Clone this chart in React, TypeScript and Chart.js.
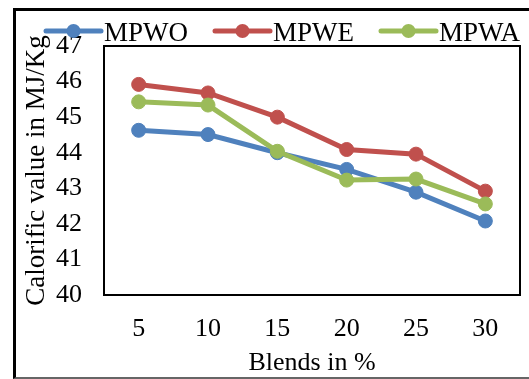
import { useEffect, useRef } from "react";
import { Chart, registerables } from "chart.js";

Chart.register(...registerables);

// Blend percentages on the x axis
const blends = ["5", "10", "15", "20", "25", "30"];

// Calorific value (MJ/Kg) for each blend series
const mpwo = [44.63, 44.51, 44.0, 43.53, 42.89, 42.08];
const mpwe = [45.92, 45.68, 45.0, 44.09, 43.96, 42.92];
const mpwa = [45.43, 45.34, 44.04, 43.23, 43.26, 42.56];

const seriesNames = ["MPWO", "MPWE", "MPWA"];
const seriesColors = ["#4F81BD", "#C0504D", "#9BBB59"];

const yMin = 40;
const yMax = 47;
const yStep = 1;

const FONT = '"Liberation Serif", "Times New Roman", Times, serif';

// Draws the black frame around the plot area and an Excel-style legend
// (line segment with a marker, followed by the series name) across the top.
const frameAndLegend = {
  id: "frameAndLegend",
  beforeDatasetsDraw(chart: any) {
    const { ctx, chartArea } = chart;
    ctx.save();
    ctx.strokeStyle = "#000";
    ctx.lineWidth = 2;
    ctx.strokeRect(
      chartArea.left,
      chartArea.top,
      chartArea.right - chartArea.left,
      chartArea.bottom - chartArea.top
    );
    ctx.restore();
  },
  afterDraw(chart: any) {
    const { ctx } = chart;
    ctx.save();
    ctx.font = `27px ${FONT}`;
    ctx.textBaseline = "alphabetic";
    ctx.textAlign = "left";
    const lineLen = 55;
    const cy = 31;
    let x = 46;
    chart.data.datasets.forEach((ds: any) => {
      ctx.strokeStyle = ds.borderColor;
      ctx.fillStyle = ds.borderColor;
      ctx.lineWidth = 5;
      ctx.lineCap = "round";
      ctx.beginPath();
      ctx.moveTo(x, cy);
      ctx.lineTo(x + lineLen, cy);
      ctx.stroke();
      ctx.beginPath();
      ctx.arc(x + lineLen / 2, cy, 7, 0, Math.PI * 2);
      ctx.fill();
      ctx.fillStyle = "#000";
      const tx = x + lineLen + 3;
      ctx.fillText(ds.label, tx, cy + 10);
      x = tx + ctx.measureText(ds.label).width + 27;
    });
    ctx.restore();
  },
};

export default function App() {
  const canvasRef = useRef<HTMLCanvasElement>(null);

  useEffect(() => {
    const canvas = canvasRef.current;
    if (!canvas) return;
    const values = [mpwo, mpwe, mpwa];
    const chart = new Chart(canvas, {
      type: "line",
      data: {
        labels: blends,
        datasets: values.map((data, i) => ({
          label: seriesNames[i],
          data,
          borderColor: seriesColors[i],
          backgroundColor: seriesColors[i],
          pointBackgroundColor: seriesColors[i],
          pointBorderColor: seriesColors[i],
          borderWidth: 5,
          pointRadius: 7,
          pointBorderWidth: 1,
          tension: 0,
          fill: false,
          order: 3 - i,
        })),
      },
      options: {
        responsive: false,
        animation: false,
        devicePixelRatio: 1,
        layout: { padding: { left: 0, right: 9, top: 46, bottom: 0 } },
        plugins: {
          legend: { display: false },
          tooltip: { enabled: false },
        },
        scales: {
          x: {
            type: "category",
            offset: true,
            grid: { display: false, drawTicks: false },
            border: { display: false },
            ticks: {
              color: "#000",
              padding: 19,
              font: { family: FONT, size: 26 },
            },
            title: {
              display: true,
              text: "Blends in %",
              color: "#000",
              font: { family: FONT, size: 26 },
              padding: { top: 0, bottom: 0 },
            },
            afterFit: (scale: any) => {
              scale.height = 84;
            },
          },
          y: {
            min: yMin,
            max: yMax,
            grid: { display: false, drawTicks: false },
            border: { display: false },
            ticks: {
              stepSize: yStep,
              color: "#000",
              padding: 22,
              font: { family: FONT, size: 26 },
            },
            title: {
              display: true,
              text: "Calorific value in MJ/Kg",
              color: "#000",
              font: { family: FONT, size: 27 },
              padding: { top: 21, bottom: 0 },
            },
            afterFit: (scale: any) => {
              scale.width = 104;
            },
          },
        },
      },
      plugins: [frameAndLegend],
    });
    return () => chart.destroy();
  }, []);

  return (
    <div
      style={{
        position: "fixed",
        left: 0,
        top: 0,
        width: 529,
        height: 379,
        background: "#fff",
        overflow: "hidden",
      }}
    >
      <div
        style={{
          position: "absolute",
          left: 13,
          top: 8,
          width: 600,
          height: 371,
          boxSizing: "border-box",
          borderLeft: "3px solid #000",
          borderTop: "3px solid #000",
          borderBottom: "2px solid #666",
        }}
      />
      <canvas
        ref={canvasRef}
        width={529}
        height={379}
        style={{ position: "absolute", left: 0, top: 0, width: 529, height: 379 }}
      />
    </div>
  );
}
